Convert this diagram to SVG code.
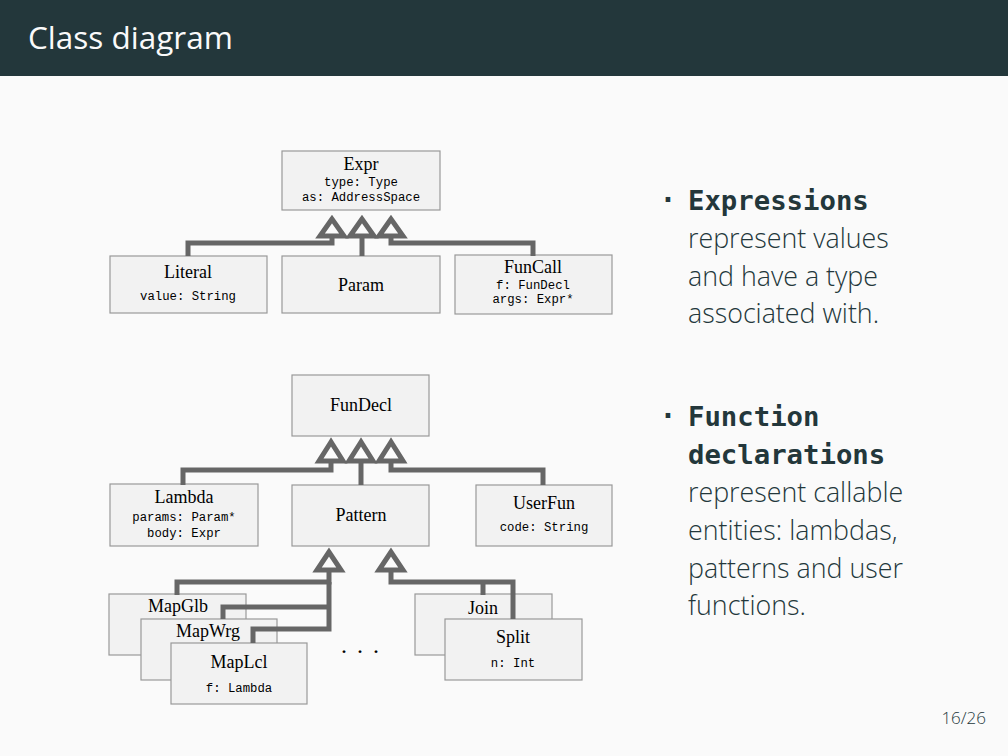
<svg xmlns="http://www.w3.org/2000/svg" width="1008" height="756" viewBox="0 0 1008 756">
<style>
.box{fill:#f2f2f2;stroke:#999;stroke-width:1.2}
.nm{font-family:"Liberation Serif",serif;font-size:18px;fill:#000;text-anchor:middle}
.at{font-family:"Liberation Mono",monospace;font-size:12.3px;fill:#000;text-anchor:middle}
.ln{fill:none;stroke:#666;stroke-width:5;stroke-linejoin:miter}
.tri{fill:#fafafa;stroke:#666;stroke-width:5;stroke-linejoin:miter}
.body{font-family:"Open Sans","Noto Sans",sans-serif;font-weight:300;font-size:26.8px;fill:#23373b}
.kw{font-family:"DejaVu Sans Mono",monospace;font-weight:bold;font-size:27.3px;fill:#23373b}
.bul{font-family:"DejaVu Sans",sans-serif;font-weight:bold;font-size:26px;fill:#23373b}
</style>
<rect x="0" y="0" width="1008" height="756" fill="#fafafa"/>
<rect x="0" y="0" width="1008" height="76" fill="#23373b"/>
<text x="28" y="49" font-family="'Open Sans','Noto Sans',sans-serif" font-size="31.5" fill="#fafafa">Class diagram</text>

<g id="expr">
<rect class="box" x="282" y="151" width="158" height="59"/>
<text class="nm" x="361" y="170">Expr</text>
<text class="at" x="361" y="186">type: Type</text>
<text class="at" x="361" y="201">as: AddressSpace</text>
</g>
<g id="literal">
<rect class="box" x="110" y="256" width="157" height="57"/>
<text class="nm" x="188" y="278">Literal</text>
<text class="at" x="188" y="300">value: String</text>
</g>
<g id="param">
<rect class="box" x="282" y="256" width="158" height="57"/>
<text class="nm" x="361" y="291">Param</text>
</g>
<g id="funcall">
<rect class="box" x="455" y="255" width="157" height="59"/>
<text class="nm" x="533" y="273">FunCall</text>
<text class="at" x="533" y="289">f: FunDecl</text>
<text class="at" x="533" y="303">args: Expr*</text>
</g>

<g id="fundecl">
<rect class="box" x="292" y="375" width="137" height="61"/>
<text class="nm" x="361" y="411">FunDecl</text>
</g>
<g id="lambda">
<rect class="box" x="110" y="484" width="148" height="62"/>
<text class="nm" x="184" y="503">Lambda</text>
<text class="at" x="184" y="521">params: Param*</text>
<text class="at" x="184" y="537">body: Expr</text>
</g>
<g id="pattern">
<rect class="box" x="292" y="485" width="137" height="61"/>
<text class="nm" x="361" y="521">Pattern</text>
</g>
<g id="userfun">
<rect class="box" x="476" y="485" width="136" height="61"/>
<text class="nm" x="544" y="509">UserFun</text>
<text class="at" x="544" y="531">code: String</text>
</g>

<g id="mapglb">
<rect class="box" x="109" y="594" width="137" height="61"/>
<text class="nm" x="178" y="612">MapGlb</text>
</g>
<g id="mapwrg">
<rect class="box" x="141" y="619" width="136" height="61"/>
<text class="nm" x="208" y="637">MapWrg</text>
</g>
<g id="maplcl">
<rect class="box" x="171" y="643" width="136" height="61"/>
<text class="nm" x="239" y="668">MapLcl</text>
<text class="at" x="239" y="692">f: Lambda</text>
</g>
<g id="dots">
<text x="361" y="653" font-family="'Liberation Serif',serif" font-size="24" text-anchor="middle" letter-spacing="2">. . .</text>
</g>
<g id="join">
<rect class="box" x="415" y="594" width="137" height="61"/>
<text class="nm" x="483" y="614">Join</text>
</g>
<g id="split">
<rect class="box" x="445" y="619" width="137" height="61"/>
<text class="nm" x="513" y="643">Split</text>
<text class="at" x="513" y="667">n: Int</text>
</g>

<g id="connectors">
<path class="ln" d="M188 256V243H332V236"/>
<path class="ln" d="M362 256V236"/>
<path class="ln" d="M533 256V243H391V236"/>
<polygon class="tri" points="332,219 320,236 344,236"/>
<polygon class="tri" points="362,219 350,236 374,236"/>
<polygon class="tri" points="391,219 379,236 403,236"/>

<path class="ln" d="M183 485V470H331V461"/>
<path class="ln" d="M361 485V461"/>
<path class="ln" d="M543 485V470H391V461"/>
<polygon class="tri" points="331,442 319,461 343,461"/>
<polygon class="tri" points="361,442 349,461 373,461"/>
<polygon class="tri" points="391,442 379,461 403,461"/>

<path class="ln" d="M177 595V582H329V570"/>
<path class="ln" d="M223 619V607H329"/>
<path class="ln" d="M253 643V629H329V582"/>
<path class="ln" d="M513 619V582H391V570"/>
<path class="ln" d="M483 595V582"/>
<polygon class="tri" points="329,552 317,570 341,570"/>
<polygon class="tri" points="391,552 379,570 403,570"/>
</g>

<g id="text">
<text class="bul" x="663" y="209">·</text>
<text class="kw" x="688" y="210">Expressions</text>
<text class="body" x="688" y="248">represent values</text>
<text class="body" x="688" y="286">and have a type</text>
<text class="body" x="688" y="323">associated with.</text>
<text class="bul" x="663" y="425">·</text>
<text class="kw" x="688" y="426">Function</text>
<text class="kw" x="688" y="464">declarations</text>
<text class="body" x="688" y="502">represent callable</text>
<text class="body" x="688" y="540">entities: lambdas,</text>
<text class="body" x="688" y="578">patterns and user</text>
<text class="body" x="688" y="615">functions.</text>
<text x="986" y="724" text-anchor="end" font-family="'Open Sans','Noto Sans',sans-serif" font-weight="300" font-size="17" fill="#23373b">16/26</text>
</g>
</svg>
